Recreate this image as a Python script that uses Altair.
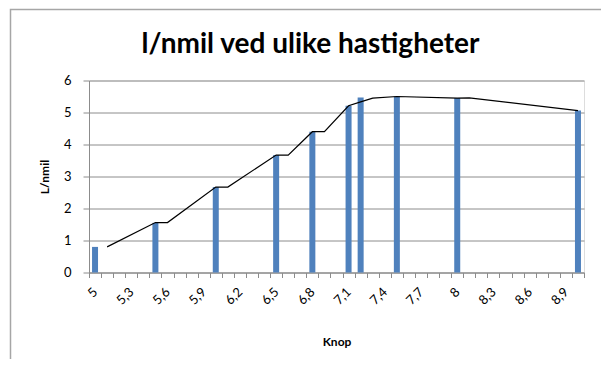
import altair as alt
import pandas as pd

# Category axis (knop), 5,0 .. 9,0 in steps of 0,1
categories = ["5", "5,1", "5,2", "5,3", "5,4", "5,5", "5,6", "5,7", "5,8", "5,9",
              "6", "6,1", "6,2", "6,3", "6,4", "6,5", "6,6", "6,7", "6,8", "6,9",
              "7", "7,1", "7,2", "7,3", "7,4", "7,5", "7,6", "7,7", "7,8", "7,9",
              "8", "8,1", "8,2", "8,3", "8,4", "8,5", "8,6", "8,7", "8,8", "8,9", "9"]
shown_labels = ["5", "5,3", "5,6", "5,9", "6,2", "6,5", "6,8", "7,1", "7,4", "7,7",
                "8", "8,3", "8,6", "8,9"]
y_ticks = [0, 1, 2, 3, 4, 5, 6]

# Bar series
bar_knop = ["5", "5,5", "6", "6,5", "6,8", "7,1", "7,2", "7,5", "8", "9"]
bar_lnmil = [0.8, 1.55, 2.67, 3.67, 4.4, 5.21, 5.47, 5.5, 5.45, 5.06]

# Line series
line_knop = ["5,1", "5,5", "5,6", "6", "6,1", "6,5", "6,6", "6,8", "6,9",
             "7,1", "7,2", "7,3", "7,5", "8", "8,1", "9"]
line_lnmil = [0.8, 1.56, 1.56, 2.67, 2.67, 3.67, 3.67, 4.4, 4.4,
              5.21, 5.33, 5.45, 5.5, 5.45, 5.46, 5.06]

bars_df = pd.DataFrame({"knop": bar_knop, "lnmil": bar_lnmil})
line_df = pd.DataFrame({"knop": line_knop, "lnmil": line_lnmil,
                        "order": [categories.index(k) for k in line_knop]})

FONT = "Lato"
GRAY = "#8c8c8c"

label_list = "[" + ",".join("'" + s + "'" for s in shown_labels) + "]"

x_axis = alt.Axis(
    title="Knop",
    tickBand="extent",
    labelExpr="indexof(" + label_list + ", datum.value) >= 0 ? datum.value : ''",
    labelAngle=-45,
    labelAlign="right",
    labelBaseline="middle",
    labelPadding=12,
    tickSize=5,
    labelFontSize=13,
    labelFont=FONT,
    titleFont=FONT,
    titleFontSize=12,
    titleFontWeight="bold",
    titlePadding=29,
    domainColor=GRAY,
    tickColor=GRAY,
    labelColor="black",
    titleColor="black",
    grid=False,
    labelOverlap=False,
)

y_axis = alt.Axis(
    title="L/nmil",
    values=y_ticks,
    tickCount=7,
    format="d",
    tickSize=6,
    labelPadding=12,
    labelFontSize=13,
    labelFont=FONT,
    labelOverlap=False,
    titleFont=FONT,
    titleFontSize=12,
    titleFontWeight="bold",
    titlePadding=12,
    domainColor=GRAY,
    tickColor=GRAY,
    gridColor=GRAY,
    gridWidth=1,
    labelColor="black",
    titleColor="black",
)

x_scale = alt.Scale(domain=categories, paddingInner=0, paddingOuter=0)
y_scale = alt.Scale(domain=[0, 6], nice=False)

frame = alt.Chart(pd.DataFrame({"a": [0]})).mark_rect(
    fill=None, stroke="#a6a6a6", strokeWidth=1.5
).encode(
    x=alt.value(-78.5), x2=alt.value(560),
    y=alt.value(-71), y2=alt.value(320),
)

bars = alt.Chart(bars_df).mark_bar(size=6, color="#4F81BD").encode(
    x=alt.X("knop:O", scale=x_scale, axis=x_axis),
    y=alt.Y("lnmil:Q", scale=y_scale, axis=y_axis),
)

line = alt.Chart(line_df).mark_line(color="black", strokeWidth=1.2).encode(
    x=alt.X("knop:O", scale=x_scale, axis=x_axis),
    y=alt.Y("lnmil:Q", scale=y_scale, axis=y_axis),
    order="order:Q",
)

chart = alt.layer(frame, bars, line).properties(
    width=495,
    height=192,
    title=alt.TitleParams(
        "l/nmil ved ulike hastigheter",
        font=FONT, fontSize=28, fontWeight="bold", color="black",
        anchor="middle", frame="group", dx=-26, offset=0, dy=50,
    ),
    autosize=alt.AutoSizeParams(type="none"),
    padding={"left": 81, "top": 72.5, "right": 17, "bottom": 86},
).configure_view(stroke=None).configure(background="white")

chart.save("out.html", embed_options={"renderer": "svg", "actions": False})
